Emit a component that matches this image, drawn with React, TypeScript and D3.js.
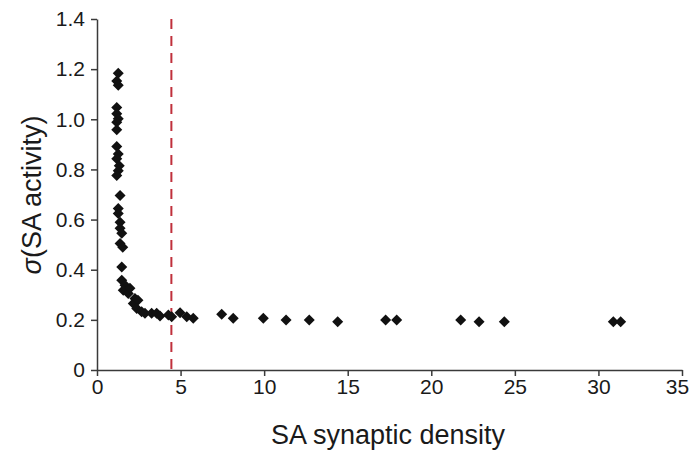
import { useEffect, useRef } from 'react';
import * as d3 from 'd3';

// SA synaptic density vs sigma(SA activity)
const density = [
  1.27, 1.18, 1.27, 1.18, 1.18, 1.27, 1.18, 1.18, 1.18, 1.27, 1.18, 1.33, 1.27, 1.18,
  1.38, 1.27, 1.27, 1.38, 1.38, 1.48, 1.38, 1.54, 1.48, 1.48, 1.68, 1.57, 1.87, 1.97,
  2.27, 2.17, 2.45, 2.38, 2.67, 2.87, 3.27, 3.57, 3.77, 4.27, 4.47, 4.97, 5.37, 5.76,
  7.46, 8.15, 9.95, 11.31, 12.7, 14.4, 17.27, 17.93, 21.76, 22.86, 24.37, 30.89, 31.33,
];
const sigma = [
  1.184, 1.153, 1.136, 1.047, 1.022, 1.002, 0.988, 0.958, 0.891, 0.862, 0.843, 0.815, 0.795, 0.776,
  0.696, 0.644, 0.624, 0.589, 0.565, 0.545, 0.505, 0.49, 0.411, 0.358, 0.338, 0.318, 0.305, 0.326,
  0.285, 0.265, 0.278, 0.245, 0.232, 0.226, 0.226, 0.226, 0.215, 0.219, 0.212, 0.228, 0.212, 0.206,
  0.222, 0.206, 0.206, 0.199, 0.199, 0.192, 0.199, 0.199, 0.199, 0.192, 0.192, 0.192, 0.192,
];
const threshold = 4.45;
const xTicks = [0, 5, 10, 15, 20, 25, 30, 35];
const yTicks = [0, 0.2, 0.4, 0.6, 0.8, 1.0, 1.2, 1.4];

const App = () => {
  const ref = useRef<SVGSVGElement>(null);

  useEffect(() => {
    const width = 689;
    const height = 451;
    const svg = d3.select(ref.current);
    svg.selectAll('*').remove();

    const x = d3.scaleLinear().domain([0, 35]).range([97, 682]);
    const y = d3.scaleLinear().domain([0, 1.4]).range([370, 19]);
    const font = 'Liberation Sans, Arial, sans-serif';
    const axisColor = '#3a3a3a';
    const textColor = '#1a1a1a';

    // x axis
    const gx = svg.append('g')
      .attr('transform', `translate(0,${y(0)})`)
      .call(d3.axisBottom(x).tickValues(xTicks).tickSize(6).tickPadding(3).tickSizeOuter(0).tickFormat(d => `${d}`));
    gx.select('.domain').attr('stroke', axisColor).attr('stroke-width', 1.5);
    gx.selectAll('.tick line').attr('stroke', axisColor).attr('stroke-width', 1.5);
    gx.selectAll('.tick text').attr('font-family', font).attr('font-size', 21).attr('fill', textColor);
    gx.select('.tick:last-of-type text').attr('dx', -5);

    // y axis
    const gy = svg.append('g')
      .attr('transform', `translate(${x(0)},0)`)
      .call(d3.axisLeft(y).tickValues(yTicks).tickSize(6).tickPadding(6).tickSizeOuter(0)
        .tickFormat(d => (d === 0 ? '0' : d3.format('.1f')(d as number))));
    gy.select('.domain').attr('stroke', axisColor).attr('stroke-width', 1.5);
    gy.selectAll('.tick line').attr('stroke', axisColor).attr('stroke-width', 1.5);
    gy.selectAll('.tick text').attr('font-family', font).attr('font-size', 21).attr('fill', textColor);

    // threshold line
    svg.append('line')
      .attr('x1', x(threshold)).attr('x2', x(threshold))
      .attr('y1', y(1.4)).attr('y2', y(0))
      .attr('stroke', '#c0303c')
      .attr('stroke-width', 2)
      .attr('stroke-dasharray', '10,7');

    // points
    const r = 5.5;
    svg.append('g')
      .attr('fill', '#111')
      .selectAll('path')
      .data(density.map((d, i) => [d, sigma[i]]))
      .join('path')
      .attr('d', d => {
        const cx = x(d[0]);
        const cy = y(d[1]);
        return `M${cx},${cy - r}L${cx + r},${cy}L${cx},${cy + r}L${cx - r},${cy}Z`;
      });

    // titles
    svg.append('text')
      .attr('x', 388).attr('y', 444)
      .attr('text-anchor', 'middle')
      .attr('font-family', font).attr('font-size', 27).attr('fill', textColor)
      .text('SA synaptic density');

    const yt = svg.append('text')
      .attr('transform', `translate(41,195) rotate(-90)`)
      .attr('text-anchor', 'middle')
      .attr('font-family', font).attr('font-size', 27).attr('fill', textColor);
    yt.append('tspan').attr('font-style', 'italic').text('σ');
    yt.append('tspan').text('(SA activity)');

    svg.attr('width', width).attr('height', height);
  }, []);

  return <svg ref={ref} width={689} height={451} style={{ position: 'absolute', left: 0, top: 0, background: '#fff' }} />;
};

export default App;
